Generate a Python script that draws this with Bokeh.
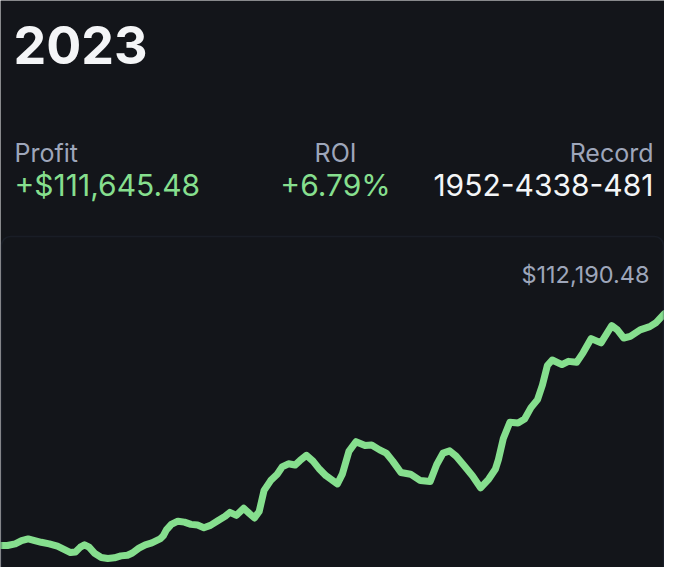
"""
plot.py — yearly profit card (dark theme) drawn with Bokeh.
"""

from bokeh.embed import file_html
from bokeh.models import BoxAnnotation, Label, Range1d
from bokeh.plotting import figure
from bokeh.resources import INLINE

# ---------------------------------------------------------------------------
# Data
# ---------------------------------------------------------------------------
TITLE = "2023"
STAT_LABELS = ["Profit", "ROI", "Record"]
STAT_VALUES = ["+$111,645.48", "+6.79%", "1952-4338-481"]
LAST_VALUE = "$112,190.48"

DAYS = [0, 3.8, 8.1, 11.6, 15.2, 18.8, 22.4, 26.8, 31.3, 34.9, 38.5, 41.2,
        43.9, 46.2, 48.7, 51.9, 55.4, 59.0, 62.6, 66.2, 69.8, 72.5, 76.1,
        79.6, 83.2, 87.7, 89.5, 91.2, 93.9, 97.5, 101.1, 104.7, 108.3, 111.8,
        115.4, 119.9, 123.5, 126.1, 129.7, 133.7, 136.9, 139.6, 142.2, 144.9,
        148.5, 152.1, 154.8, 158.3, 161.9, 164.6, 168.2, 171.8, 175.4, 178.9,
        182.5, 185.2, 187.9, 191.5, 195.4, 200.4, 204.0, 208.4, 212.0, 215.6,
        220.1, 225.4, 230.8, 236.2, 239.8, 243.3, 246.9, 250.5, 255.0, 259.4,
        263.9, 268.4, 272.0, 273.7, 276.4, 280.0, 284.5, 288.1, 291.6, 295.2,
        297.9, 300.6, 303.3, 308.6, 312.2, 316.7, 320.3, 324.7, 330.1, 336.0,
        339.1, 342.6, 346.2, 351.6, 356.9, 360.5, 365]
PROFIT = [427, 427, 1225, 2772, 3570, 2772, 1975, 1225, 99, -1449, -2996,
          -2715, -370, 756, -370, -3465, -5341, -5810, -5529, -4591, -4263,
          -3184, -839, 756, 1694, 3570, 5117, 7931, 10605, 12152, 11683, 10605,
          10276, 9010, 10136, 12621, 14497, 16373, 14966, 18390, 15764, 13700,
          16842, 27020, 31710, 34805, 38276, 39823, 39214, 41371, 43904, 41090,
          37150, 34055, 31850, 30115, 34805, 45780, 50470, 48594, 48875, 46530,
          44982, 41090, 35602, 34805, 31710, 31241, 39495, 44982, 46061, 43435,
          38745, 34055, 28239, 32460, 37150, 41840, 52017, 59850, 59521, 61397,
          66885, 70777, 77812, 87192, 89866, 87661, 89209, 88740, 93430,
          100184, 98120, 106421, 104405, 100465, 101262, 104405, 105952,
          107969, 112190]

# ---------------------------------------------------------------------------
# Style
# ---------------------------------------------------------------------------
W, H = 664, 567
BG = "#13151a"
GREEN = "#86df8e"
GREY = "#9ea6ba"
WHITE = "#f4f5f7"
FONT = "Inter"


def _label(p, x, top, text, size, color, align="left", bold=False):
    # top = baseline distance from the top edge; Bokeh's alphabetic baseline
    # lands ~0.37em low here, so lift it by that amount
    p.add_layout(Label(
        x=x, y=H - top + 0.37 * size, x_units="screen", y_units="screen",
        text=text, text_font=FONT, text_font_size=f"{size}px",
        text_color=color, text_align=align, text_baseline="alphabetic",
        text_font_style="bold" if bold else "normal",
    ))


p = figure(
    width=W, height=H,
    x_range=Range1d(0, 365), y_range=Range1d(-10190, 263210),
    output_backend="svg", toolbar_location=None,
    min_border=0, background_fill_color=BG, border_fill_color=BG,
)
p.axis.visible = False
p.grid.visible = False
p.outline_line_color = None

# chart panel outline
p.add_layout(BoxAnnotation(
    left=1, right=W - 1, top=H - 236, bottom=-40,
    left_units="screen", right_units="screen",
    top_units="screen", bottom_units="screen",
    fill_alpha=0, line_color="#283142", line_width=1.5, border_radius=9,
))

p.line(DAYS, PROFIT, line_width=7, line_color=GREEN,
       line_join="round", line_cap="round")

# header
_label(p, 13, 64, TITLE, 52, WHITE, bold=True)

stat_x = [14, 335, 653]
stat_align = ["left", "center", "right"]
value_colors = [GREEN, GREEN, WHITE]
for sx, al, lab, val, col in zip(stat_x, stat_align, STAT_LABELS,
                                 STAT_VALUES, value_colors):
    _label(p, sx, 162, lab, 25, GREY, align=al)
    _label(p, sx, 196, val, 30, col, align=al)

_label(p, 649, 283, LAST_VALUE, 23.5, GREY, align="right")

open("out.html", "w").write(file_html(p, INLINE))
